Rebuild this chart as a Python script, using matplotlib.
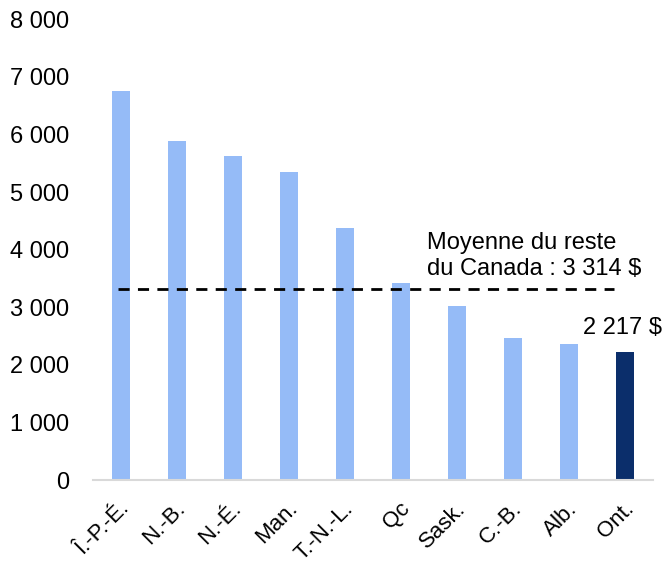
import matplotlib.pyplot as plt
from matplotlib.transforms import ScaledTranslation

provinces = ["Î.-P.-É.", "N.-B.", "N.-É.", "Man.", "T.-N.-L.", "Qc", "Sask.", "C.-B.", "Alb.", "Ont."]
values = [6750, 5880, 5620, 5340, 4370, 3415, 3020, 2460, 2360, 2217]
moyenne = 3314

plt.rcParams['font.family'] = ['Liberation Sans', 'DejaVu Sans']

fig = plt.figure(figsize=(6.65, 5.65), dpi=100)
ax = fig.add_axes([0.14, 0.1504, 0.842, 0.8156])

colors = ["#95BBF7"] * (len(values) - 1) + ["#0B2E6B"]
x = range(len(provinces))
ax.bar(x, values, width=0.315, color=colors)

# ligne moyenne reste du Canada
ax.plot([-0.05, 8.8], [moyenne, moyenne], color="black", linestyle=(0, (4, 3)), linewidth=2)
ax.text(5.46, 3890, "Moyenne du reste\ndu Canada : 3 314 $", fontsize=17,
        ha="left", va="center", linespacing=1.2)
ax.text(8.95, 2640, "2 217 $", fontsize=17, ha="center", va="center")

ax.set_xlim(-0.5, 9.5)
ax.set_ylim(0, 8000)
ax.set_yticks(range(0, 8001, 1000))
ax.set_yticklabels([f"{v:,}".replace(",", " ") for v in range(0, 8001, 1000)])
ax.set_xticks(list(x))
ax.set_xticklabels(provinces, rotation=45, ha="right", rotation_mode="anchor")
ax.tick_params(axis="y", length=0, labelsize=17, pad=17)
ax.tick_params(axis="x", length=0, labelsize=16, pad=13)
for lab in ax.get_xticklabels():
    lab.set_transform(lab.get_transform() + ScaledTranslation(-2 / 100, 0, fig.dpi_scale_trans))

for s in ["top", "right", "left"]:
    ax.spines[s].set_visible(False)
ax.spines["bottom"].set_color("#D9D9D9")
ax.spines["bottom"].set_linewidth(1.5)

plt.savefig("out.png", dpi=100)
